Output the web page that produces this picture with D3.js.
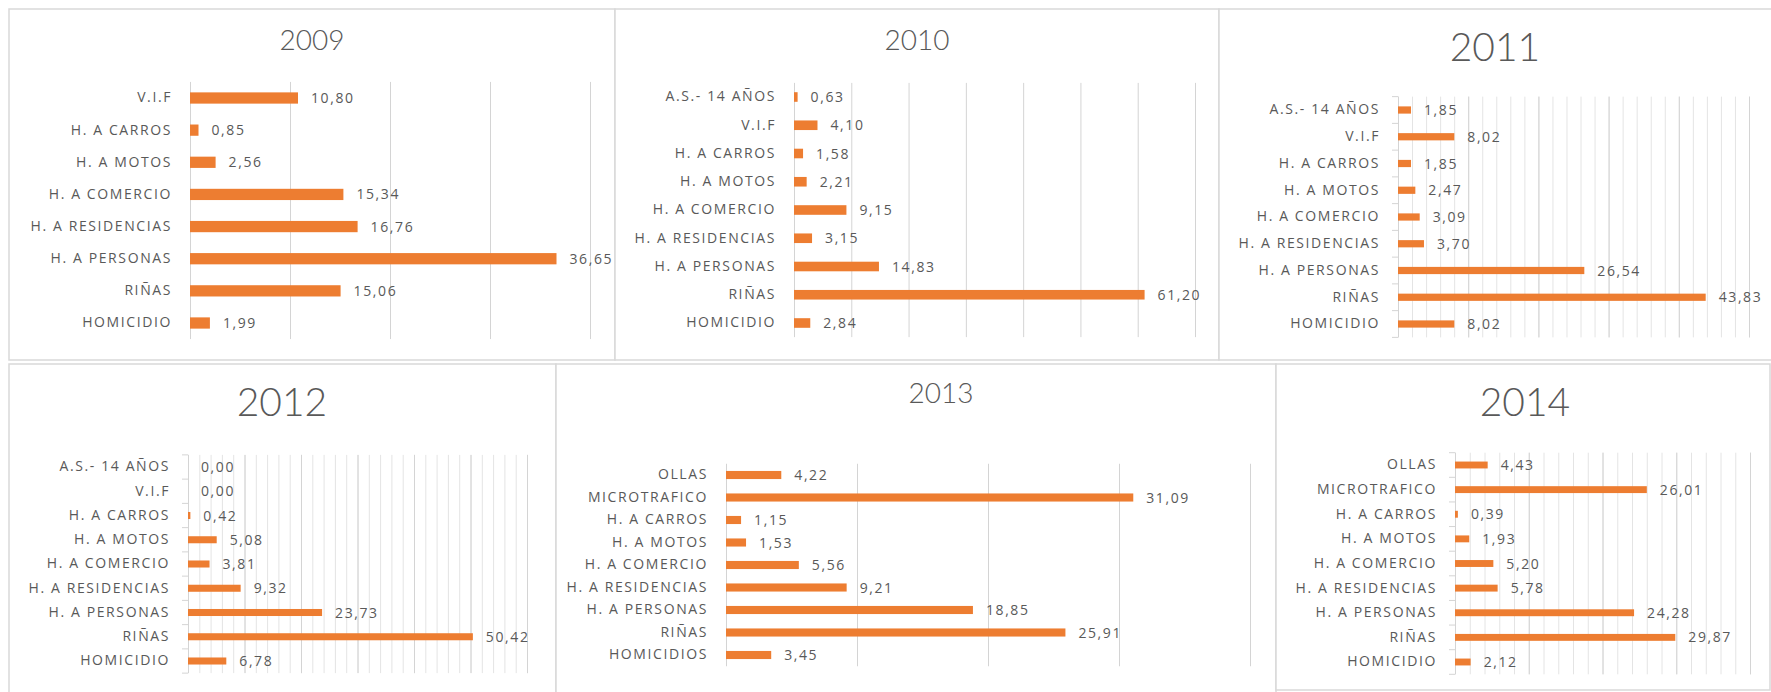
<!DOCTYPE html>
<html>
<head>
<meta charset="utf-8">
<script src="https://cdnjs.cloudflare.com/ajax/libs/d3/7.8.5/d3.min.js"></script>
<style>
body{margin:0;background:#fff;}
svg text{font-family:"Open Sans",sans-serif;fill:#595959;}
</style>
</head>
<body>
<div id="chart"></div>
<script>
var width = 1771, height = 692;

// categorias y valores (de arriba hacia abajo)
var cats2009 = ["V.I.F","H. A CARROS","H. A MOTOS","H. A COMERCIO","H. A RESIDENCIAS","H. A PERSONAS","RIÑAS","HOMICIDIO"];
var vals2009 = [10.80,0.85,2.56,15.34,16.76,36.65,15.06,1.99];

var cats2010 = ["A.S.- 14 AÑOS","V.I.F","H. A CARROS","H. A MOTOS","H. A COMERCIO","H. A RESIDENCIAS","H. A PERSONAS","RIÑAS","HOMICIDIO"];
var vals2010 = [0.63,4.10,1.58,2.21,9.15,3.15,14.83,61.20,2.84];

var cats2011 = ["A.S.- 14 AÑOS","V.I.F","H. A CARROS","H. A MOTOS","H. A COMERCIO","H. A RESIDENCIAS","H. A PERSONAS","RIÑAS","HOMICIDIO"];
var vals2011 = [1.85,8.02,1.85,2.47,3.09,3.70,26.54,43.83,8.02];

var cats2012 = ["A.S.- 14 AÑOS","V.I.F","H. A CARROS","H. A MOTOS","H. A COMERCIO","H. A RESIDENCIAS","H. A PERSONAS","RIÑAS","HOMICIDIO"];
var vals2012 = [0.00,0.00,0.42,5.08,3.81,9.32,23.73,50.42,6.78];

var cats2013 = ["OLLAS","MICROTRAFICO","H. A CARROS","H. A MOTOS","H. A COMERCIO","H. A RESIDENCIAS","H. A PERSONAS","RIÑAS","HOMICIDIOS"];
var vals2013 = [4.22,31.09,1.15,1.53,5.56,9.21,18.85,25.91,3.45];

var cats2014 = ["OLLAS","MICROTRAFICO","H. A CARROS","H. A MOTOS","H. A COMERCIO","H. A RESIDENCIAS","H. A PERSONAS","RIÑAS","HOMICIDIO"];
var vals2014 = [4.43,26.01,0.39,1.93,5.20,5.78,24.28,29.87,2.12];

// ejes: maximo, paso de grilla mayor y menor (0 = sin grilla menor)
var years = ["2009","2010","2011","2012","2013","2014"];
var axisMax = [40,70,50,60,40,40];
var majorStep = [10,10,10,10,10,10];
var minorStep = [0,0,2,2,0,2];

var allCats = [cats2009,cats2010,cats2011,cats2012,cats2013,cats2014];
var allVals = [vals2009,vals2010,vals2011,vals2012,vals2013,vals2014];

// posicion de cada grafico dentro del collage
var layout = [
  {box:[9,9,606,351],    title:[312,40,28],  x0:190,  x1:590,  y0:98,  y1:323, bar:0.35, ticks:false},
  {box:[615,9,604,351],  title:[917,40,28],  x0:794,  x1:1195, y0:97,  y1:323, bar:0.34, ticks:false},
  {box:[1219,9,560,351], title:[1495,47,39], x0:1398, x1:1749, y0:110, y1:324, bar:0.27, ticks:true},
  {box:[9,364,547,340],  title:[282,402,39], x0:188,  x1:527,  y0:467, y1:661, bar:0.29, ticks:true},
  {box:[556,364,720,340],title:[941,393,28], x0:726,  x1:1250, y0:475, y1:655, bar:0.36, ticks:false},
  {box:[1276,364,494,326],title:[1525,402,39],x0:1455, x1:1750, y0:465, y1:662, bar:0.28, ticks:true}
];

var fmt = d3.formatLocale({decimal:",", thousands:".", grouping:[3], currency:["",""]}).format(".2f");

var svg = d3.select("#chart").append("svg")
  .attr("width", width)
  .attr("height", height);

years.forEach(function(year, i){
  var L = layout[i];
  var cats = allCats[i], vals = allVals[i];
  var g = svg.append("g");

  //marco
  g.append("rect")
    .attr("x", L.box[0]).attr("y", L.box[1])
    .attr("width", L.box[2]).attr("height", L.box[3])
    .attr("fill", "#fff").attr("stroke", "#d9d9d9").attr("stroke-width", 1.5);

  g.append("text")
    .attr("x", L.title[0])
    .attr("y", L.title[1] + L.title[2]*0.36)
    .attr("text-anchor", "middle")
    .style("font-family", "Lato, sans-serif")
    .style("font-weight", 300)
    .style("font-size", L.title[2] + "px")
    .text(year);

  var n = cats.length;
  var step = (L.y1 - L.y0) / (n - 1);
  var top = L.y0 - step/2, bot = L.y1 + step/2;

  var yScale = d3.scaleBand().domain(cats).range([top, bot])
    .paddingInner(1 - L.bar).paddingOuter((1 - L.bar)/2);
  var xScale = d3.scaleLinear().domain([0, axisMax[i]]).range([L.x0, L.x1]);

  //grilla menor
  if (minorStep[i] > 0) {
    g.append("g")
      .attr("transform", "translate(0," + bot + ")")
      .call(d3.axisBottom(xScale)
        .tickValues(d3.range(0, axisMax[i] + 0.001, minorStep[i]))
        .tickSize(-(bot - top)).tickFormat(""))
      .call(function(s){
        s.select(".domain").remove();
        s.selectAll("line").attr("stroke", "#e4e4e4");
      });
  }

  //grilla mayor
  g.append("g")
    .attr("transform", "translate(0," + bot + ")")
    .call(d3.axisBottom(xScale)
      .tickValues(d3.range(0, axisMax[i] + 0.001, majorStep[i]))
      .tickSize(-(bot - top)).tickFormat(""))
    .call(function(s){
      s.select(".domain").remove();
      s.selectAll("line").attr("stroke", "#d4d4d4");
    });

  //marcas del eje de categorias
  if (L.ticks) {
    g.selectAll(".tk")
      .data(d3.range(n + 1))
      .enter().append("line")
      .attr("x1", L.x0 - 6).attr("x2", L.x0)
      .attr("y1", function(k){ return top + k*step; })
      .attr("y2", function(k){ return top + k*step; })
      .attr("stroke", "#d4d4d4");
  }

  g.selectAll(".bar")
    .data(vals)
    .enter().append("rect")
    .attr("x", xScale(0))
    .attr("y", function(d, j){ return yScale(cats[j]); })
    .attr("width", function(d){ return xScale(d) - xScale(0); })
    .attr("height", yScale.bandwidth())
    .attr("fill", "#ed7d31");

  //etiquetas de valor
  g.selectAll(".val")
    .data(vals)
    .enter().append("text")
    .attr("x", function(d){ return xScale(d) + 13; })
    .attr("y", function(d, j){ return yScale(cats[j]) + yScale.bandwidth()/2 + 5; })
    .style("font-size", "14px")
    .style("letter-spacing", "1.6px")
    .text(function(d){ return fmt(d); });

  //etiquetas de categoria
  g.append("g")
    .attr("transform", "translate(" + L.x0 + ",0)")
    .call(d3.axisLeft(yScale).tickSize(0).tickPadding(18))
    .call(function(s){
      s.select(".domain").remove();
      s.selectAll("text")
        .style("font-family", "'Open Sans', sans-serif")
        .style("font-size", "14px")
        .style("letter-spacing", "1.6px")
        .attr("fill", "#595959");
    });
});
</script>
</body>
</html>
